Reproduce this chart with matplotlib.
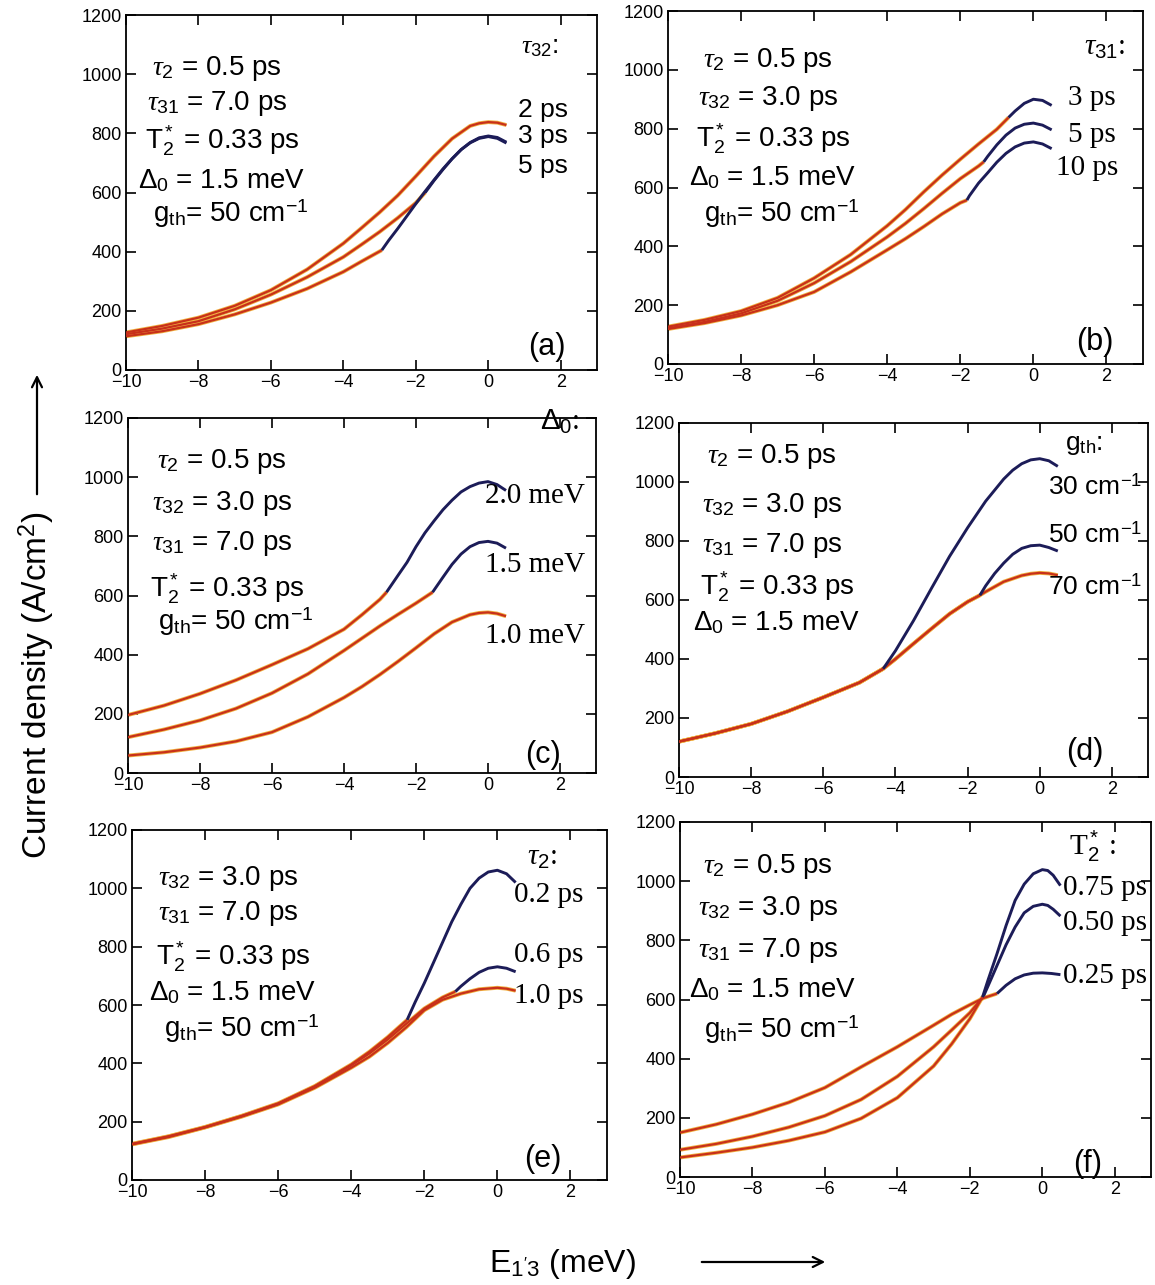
import matplotlib
matplotlib.use('Agg')
import matplotlib.pyplot as plt
from matplotlib.patches import FancyArrowPatch

plt.rcParams['font.family'] = ['Liberation Sans', 'DejaVu Sans']
plt.rcParams['mathtext.fontset'] = 'custom'
plt.rcParams['mathtext.rm'] = 'Liberation Sans'
plt.rcParams['mathtext.it'] = 'Liberation Serif:italic'
plt.rcParams['mathtext.bf'] = 'Liberation Sans:bold'

# ---------------- axis ticks ----------------
X_TICKS = [-10, -8, -6, -4, -2, 0, 2]
Y_TICKS = [0, 200, 400, 600, 800, 1000, 1200]
X_LIM = [-10, 3]
Y_LIM = [0, 1200]

# ---------------- panel (a): tau32 = 2, 3, 5 ps ----------------
A_X_2 = [-10, -9, -8, -7, -6, -5, -4, -3.5, -3, -2.5, -2, -1.5, -1, -0.5, -0.25, 0, 0.25, 0.5]
A_Y_2 = [127, 149, 177, 217, 270, 340, 428, 480, 533, 590, 655, 722, 782, 825, 834, 838, 836, 828]
A_XR_3 = [-10, -9, -8, -7, -6, -5, -4, -3.5, -3, -2.5, -2, -1.74]
A_YR_3 = [121, 140, 165, 205, 255, 314, 382, 424, 467, 514, 565, 600]
A_XB_3 = [-1.74, -1.5, -1.25, -1, -0.75, -0.5, -0.25, 0, 0.25, 0.5]
A_YB_3 = [600, 640, 678, 714, 745, 769, 785, 791, 786, 770]
A_XR_5 = [-10, -9, -8, -7, -6, -5, -4, -3.5, -2.94]
A_YR_5 = [114, 131, 155, 188, 228, 275, 332, 367, 405]
A_XB_5 = [-2.94, -2.75, -2.5, -2.25, -2, -1.75, -1.5, -1.25, -1, -0.75, -0.5, -0.25, 0, 0.25, 0.5]
A_YB_5 = [405, 438, 478, 520, 562, 603, 642, 680, 714, 745, 768, 783, 789, 783, 767]

# ---------------- panel (b): tau31 = 3, 5, 10 ps ----------------
B_XR_3 = [-10, -9, -8, -7, -6, -5, -4, -3.5, -3, -2.5, -2, -1.5, -1, -0.68]
B_YR_3 = [127, 150, 180, 225, 292, 372, 470, 525, 585, 642, 696, 748, 798, 838]
B_XB_3 = [-0.68, -0.5, -0.25, 0, 0.25, 0.5]
B_YB_3 = [838, 860, 886, 900, 896, 879]
B_XR_5 = [-10, -9, -8, -7, -6, -5, -4, -3.5, -3, -2.5, -2, -1.5, -1.36]
B_YR_5 = [121, 143, 172, 215, 275, 348, 432, 478, 528, 580, 630, 673, 687]
B_XB_5 = [-1.36, -1.25, -1, -0.75, -0.5, -0.25, 0, 0.25, 0.5]
B_YB_5 = [687, 706, 745, 778, 802, 815, 819, 812, 796]
B_XR_10 = [-10, -9, -8, -7, -6, -5, -4, -3.5, -3, -2.5, -2, -1.82]
B_YR_10 = [119, 139, 165, 200, 245, 313, 388, 426, 467, 510, 548, 557]
B_XB_10 = [-1.82, -1.75, -1.5, -1.25, -1, -0.75, -0.5, -0.25, 0, 0.25, 0.5]
B_YB_10 = [557, 572, 615, 650, 686, 716, 738, 751, 755, 748, 732]

# ---------------- panel (c): Delta0 = 2.0, 1.5, 1.0 meV ----------------
C_XR_20 = [-10, -9, -8, -7, -6, -5, -4, -3.5, -3, -2.82]
C_YR_20 = [196, 228, 268, 314, 366, 420, 486, 535, 587, 611]
C_XB_20 = [-2.82, -2.5, -2.25, -2, -1.75, -1.5, -1.25, -1, -0.75, -0.5, -0.25, 0, 0.25, 0.5]
C_YB_20 = [611, 668, 712, 765, 812, 852, 890, 922, 950, 968, 980, 985, 975, 955]
C_XR_15 = [-10, -9, -8, -7, -6, -5, -4, -3, -2.5, -2, -1.54]
C_YR_15 = [121, 147, 178, 218, 270, 335, 414, 497, 536, 574, 611]
C_XB_15 = [-1.54, -1.25, -1, -0.75, -0.5, -0.25, 0, 0.25, 0.5]
C_YB_15 = [611, 662, 705, 740, 765, 779, 783, 777, 760]
C_X_10 = [-10, -9, -8, -7, -6, -5, -4, -3.5, -3, -2.5, -2, -1.5, -1, -0.5, -0.25, 0, 0.25, 0.5]
C_Y_10 = [59, 70, 86, 107, 138, 190, 255, 292, 333, 377, 423, 470, 510, 535, 541, 543, 539, 530]

# ---------------- panel (d): g_th = 30, 50, 70 cm^-1 ----------------
D_X_70 = [-10, -9, -8, -7, -6, -5, -4.34, -4, -3.5, -3, -2.5, -2, -1.66, -1.5, -1, -0.5, -0.25, 0, 0.25, 0.5]
D_Y_70 = [120, 148, 180, 222, 270, 320, 367, 400, 452, 503, 553, 594, 616, 628, 662, 683, 689, 692, 690, 684]
D_XR_30 = [-10, -9, -8, -7, -6, -5, -4.34]
D_YR_30 = [120, 148, 180, 222, 270, 320, 367]
D_XB_30 = [-4.34, -4, -3.5, -3, -2.5, -2, -1.5, -1, -0.75, -0.5, -0.25, 0, 0.25, 0.5]
D_YB_30 = [367, 428, 530, 640, 748, 845, 935, 1010, 1040, 1062, 1075, 1079, 1072, 1053]
D_XR_50 = [-10, -9, -8, -7, -6, -5, -4.34, -4, -3.5, -3, -2.5, -2, -1.66]
D_YR_50 = [120, 148, 180, 222, 270, 320, 367, 400, 452, 503, 553, 594, 616]
D_XB_50 = [-1.66, -1.5, -1.25, -1, -0.75, -0.5, -0.25, 0, 0.25, 0.5]
D_YB_50 = [616, 648, 690, 725, 755, 775, 784, 786, 778, 766]

# ---------------- panel (e): tau2 = 0.2, 0.6, 1.0 ps ----------------
E_XR_02 = [-10, -9, -8, -7, -6, -5, -4, -3.5, -3, -2.75, -2.47]
E_YR_02 = [124, 150, 182, 220, 263, 322, 396, 440, 490, 518, 549]
E_XB_02 = [-2.47, -2.25, -2, -1.75, -1.5, -1.25, -1, -0.75, -0.5, -0.25, 0, 0.25, 0.5]
E_YB_02 = [549, 610, 675, 745, 815, 885, 945, 1000, 1035, 1056, 1062, 1050, 1020]
E_XR_06 = [-10, -9, -8, -7, -6, -5, -4, -3.5, -3, -2.5, -2, -1.5, -1.15]
E_YR_06 = [123, 149, 181, 219, 261, 320, 393, 434, 482, 535, 588, 626, 646]
E_XB_06 = [-1.15, -1, -0.75, -0.5, -0.25, 0, 0.25, 0.5]
E_YB_06 = [646, 664, 690, 712, 726, 731, 726, 714]
E_X_10 = [-10, -9, -8, -7, -6, -5, -4, -3.5, -3, -2.5, -2, -1.5, -1, -0.5, 0, 0.25, 0.5]
E_Y_10 = [122, 147, 180, 217, 259, 316, 385, 423, 470, 523, 582, 618, 639, 654, 659, 656, 649]

# ---------------- panel (f): T2* = 0.25, 0.50, 0.75 ps ----------------
F_XR_025 = [-10, -9, -8, -7, -6, -5, -4, -3, -2.5, -2, -1.62, -1.25]
F_YR_025 = [150, 178, 212, 252, 302, 372, 440, 513, 550, 582, 605, 620]
F_XB_025 = [-1.25, -1, -0.75, -0.5, -0.25, 0, 0.25, 0.5]
F_YB_025 = [620, 648, 670, 683, 689, 690, 688, 684]
F_XR_050 = [-10, -9, -8, -7, -6, -5, -4, -3, -2.5, -2, -1.62]
F_YR_050 = [92, 112, 137, 168, 207, 262, 340, 440, 497, 555, 612]
F_XB_050 = [-1.62, -1.5, -1.25, -1, -0.75, -0.5, -0.25, 0, 0.15, 0.3, 0.5]
F_YB_050 = [612, 645, 715, 785, 845, 893, 915, 922, 918, 905, 882]
F_XR_075 = [-10, -9, -8, -7, -6, -5, -4, -3, -2.5, -2, -1.65]
F_YR_075 = [66, 82, 100, 123, 152, 198, 268, 375, 450, 535, 608]
F_XB_075 = [-1.65, -1.5, -1.25, -1, -0.75, -0.5, -0.25, 0, 0.15, 0.3, 0.5]
F_YB_075 = [608, 665, 755, 850, 935, 990, 1025, 1039, 1036, 1020, 985]

# ---------------- text ----------------
A_PARAMS = [r"$\tau_{2}$ = 0.5 ps", r"$\tau_{31}$ = 7.0 ps", r"T$_2^*$ = 0.33 ps",
            r"$\Delta_0$ = 1.5 meV", r"g$_{\mathrm{th}}$= 50 cm$^{-1}$"]
B_PARAMS = [r"$\tau_{2}$ = 0.5 ps", r"$\tau_{32}$ = 3.0 ps", r"T$_2^*$ = 0.33 ps",
            r"$\Delta_0$ = 1.5 meV", r"g$_{\mathrm{th}}$= 50 cm$^{-1}$"]
C_PARAMS = [r"$\tau_{2}$ = 0.5 ps", r"$\tau_{32}$ = 3.0 ps", r"$\tau_{31}$ = 7.0 ps",
            r"T$_2^*$ = 0.33 ps", r"g$_{\mathrm{th}}$= 50 cm$^{-1}$"]
D_PARAMS = [r"$\tau_{2}$ = 0.5 ps", r"$\tau_{32}$ = 3.0 ps", r"$\tau_{31}$ = 7.0 ps",
            r"T$_2^*$ = 0.33 ps", r"$\Delta_0$ = 1.5 meV"]
E_PARAMS = [r"$\tau_{32}$ = 3.0 ps", r"$\tau_{31}$ = 7.0 ps", r"T$_2^*$ = 0.33 ps",
            r"$\Delta_0$ = 1.5 meV", r"g$_{\mathrm{th}}$= 50 cm$^{-1}$"]
F_PARAMS = [r"$\tau_{2}$ = 0.5 ps", r"$\tau_{32}$ = 3.0 ps", r"$\tau_{31}$ = 7.0 ps",
            r"$\Delta_0$ = 1.5 meV", r"g$_{\mathrm{th}}$= 50 cm$^{-1}$"]

A_SERIES = [r"$\tau_{32}$:", "2 ps", "3 ps", "5 ps"]
B_SERIES = [r"$\tau_{31}$:", "3 ps", "5 ps", "10 ps"]
C_SERIES = [r"$\Delta_0$:", "2.0 meV", "1.5 meV", "1.0 meV"]
D_SERIES = [r"g$_{\mathrm{th}}$:", r"30 cm$^{-1}$", r"50 cm$^{-1}$", r"70 cm$^{-1}$"]
E_SERIES = [r"$\tau_{2}$:", "0.2 ps", "0.6 ps", "1.0 ps"]
F_SERIES = [r"T$_2^*$ :", "0.75 ps", "0.50 ps", "0.25 ps"]

Y_LABEL = r"Current density (A/cm$^2$)"
X_LABEL = r"E$_{1'3}$ (meV)"

# ---------------- drawing ----------------
W, H = 1155, 1285
fig = plt.figure(figsize=(W / 100, H / 100), dpi=100)

RED_GLOW = '#f0b040'
RED = '#c8301a'
BLUE = '#1c1c58'
SERIF = ['Liberation Serif', 'DejaVu Serif']


def add_ax(l, t, r, b):
    ax = fig.add_axes([l / W, 1 - b / H, (r - l) / W, (b - t) / H])
    ax.set_xlim(X_LIM)
    ax.set_ylim(Y_LIM)
    ax.set_xticks(X_TICKS)
    ax.set_yticks(Y_TICKS)
    ax.tick_params(direction='in', length=7, width=1.2, top=True, right=True,
                   labelsize=13, pad=3)
    for s in ax.spines.values():
        s.set_linewidth(1.3)
    return ax


def red(ax, x, y):
    ax.plot(x, y, color=RED_GLOW, lw=2.8, solid_capstyle='butt',
            solid_joinstyle='round', zorder=2)
    ax.plot(x, y, color=RED, lw=1.6, solid_capstyle='butt',
            solid_joinstyle='round', zorder=3)


def blue(ax, x, y):
    ax.plot(x, y, color=BLUE, lw=2.1, solid_capstyle='butt',
            solid_joinstyle='round', zorder=4)


def ftext(px, py, s, **kw):
    fig.text(px / W, 1 - py / H, s, **kw)


def block(cx, baselines, lines, size=20):
    for yb, s in zip(baselines, lines):
        dx = 0
        if 'cm' in s:
            dx = 14
        elif 'T$' in s or 'Delta' in s:
            dx = 5
        ftext(cx + dx, yb, s, ha='center', va='baseline', fontsize=size)


def series(positions, labels, size=19, family=None):
    for (px, py), s in zip(positions, labels):
        kw = dict(ha='center', va='baseline', fontsize=size)
        if family:
            kw['family'] = family
        ftext(px, py, s, **kw)


def letter(px, py, s):
    ftext(px, py, s, ha='center', va='baseline', fontsize=22)


# (a)
ax = add_ax(126, 15, 597, 370)
red(ax, A_X_2, A_Y_2)
red(ax, A_XR_3, A_YR_3)
red(ax, A_XR_5, A_YR_5)
blue(ax, A_XB_3, A_YB_3)
blue(ax, A_XB_5, A_YB_5)
block(217, [75, 110, 150, 188, 222], A_PARAMS)
series([(540, 53), (543, 117), (543, 143), (543, 173)], A_SERIES)
letter(547, 355, "(a)")

# (b)
ax = add_ax(668, 11, 1143, 364)
red(ax, B_XR_3, B_YR_3)
red(ax, B_XR_5, B_YR_5)
red(ax, B_XR_10, B_YR_10)
blue(ax, B_XB_3, B_YB_3)
blue(ax, B_XB_5, B_YB_5)
blue(ax, B_XB_10, B_YB_10)
block(768, [67, 105, 148, 185, 222], B_PARAMS)
series([(1105, 55), (1092, 105), (1092, 142), (1087, 175)], B_SERIES, size=21, family=SERIF)
letter(1095, 350, "(b)")

# (c)
ax = add_ax(128, 418, 596, 773)
red(ax, C_XR_20, C_YR_20)
red(ax, C_XR_15, C_YR_15)
red(ax, C_X_10, C_Y_10)
blue(ax, C_XB_20, C_YB_20)
blue(ax, C_XB_15, C_YB_15)
block(222, [468, 510, 550, 597, 630], C_PARAMS)
series([(560, 430), (535, 503), (535, 572), (535, 643)], C_SERIES, size=21, family=SERIF)
letter(543, 763, "(c)")

# (d)
ax = add_ax(679, 423, 1148, 777)
red(ax, D_X_70, D_Y_70)
red(ax, D_XR_30, D_YR_30)
red(ax, D_XR_50, D_YR_50)
blue(ax, D_XB_30, D_YB_30)
blue(ax, D_XB_50, D_YB_50)
block(772, [463, 512, 552, 595, 630], D_PARAMS)
series([(1084, 450), (1095, 495), (1095, 543), (1095, 595)], D_SERIES)
letter(1085, 760, "(d)")

# (e)
ax = add_ax(132, 830, 607, 1180)
red(ax, E_X_10, E_Y_10)
red(ax, E_XR_06, E_YR_06)
red(ax, E_XR_02, E_YR_02)
blue(ax, E_XB_02, E_YB_02)
blue(ax, E_XB_06, E_YB_06)
block(228, [885, 920, 965, 1000, 1037], E_PARAMS)
series([(542, 865), (549, 902), (549, 962), (549, 1003)], E_SERIES, size=21, family=SERIF)
letter(543, 1167, "(e)")

# (f)
ax = add_ax(680, 822, 1151, 1177)
red(ax, F_XR_025, F_YR_025)
red(ax, F_XR_050, F_YR_050)
red(ax, F_XR_075, F_YR_075)
blue(ax, F_XB_025, F_YB_025)
blue(ax, F_XB_050, F_YB_050)
blue(ax, F_XB_075, F_YB_075)
block(768, [873, 915, 957, 997, 1038], F_PARAMS)
series([(1093, 855), (1105, 895), (1105, 930), (1105, 983)], F_SERIES, size=21, family=SERIF)
letter(1088, 1172, "(f)")

# axis titles with arrows
ftext(37, 685, Y_LABEL, rotation=90, ha='center', va='center', fontsize=24)
fig.add_artist(FancyArrowPatch((37 / W, 1 - 497 / H), (37 / W, 1 - 372 / H),
                               transform=fig.transFigure, arrowstyle='->',
                               mutation_scale=18, lw=1.6, color='black'))
ftext(563, 1272, X_LABEL, ha='center', va='baseline', fontsize=23)
fig.add_artist(FancyArrowPatch((699 / W, 1 - 1262 / H), (828 / W, 1 - 1262 / H),
                               transform=fig.transFigure, arrowstyle='->',
                               mutation_scale=18, lw=1.6, color='black'))

fig.savefig('out.png', dpi=100)
